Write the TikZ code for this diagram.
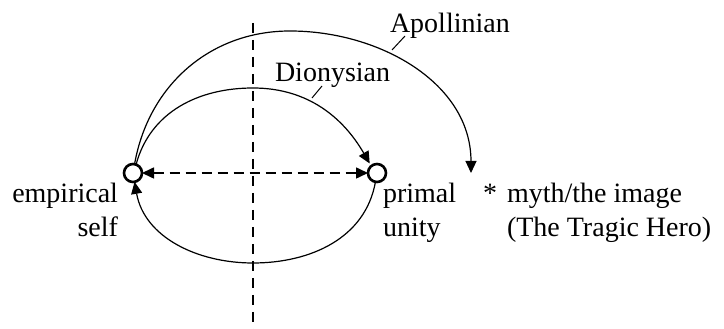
\documentclass[tikz,border=0pt]{standalone}
\usepackage{fontspec}
\setmainfont{Liberation Serif}
\usetikzlibrary{arrows.meta}
\begin{document}
\begin{tikzpicture}[x=1pt,y=1pt,
  every node/.style={inner sep=0pt,outer sep=0pt},
  lbl/.style={font=\fontsize{28}{34}\selectfont},
  pt/.style={circle,draw,line width=2.6pt,minimum size=18pt},
  arc/.style={line width=1.2pt,-{Triangle[length=12pt,width=11pt]}},
  axis/.style={line width=1.6pt,dash pattern=on 10pt off 7pt},
  link/.style={line width=1.6pt,dash pattern=on 10pt off 6pt,{Triangle[length=12pt,width=11pt]}-{Triangle[length=12pt,width=11pt]}},
  leader/.style={line width=1pt}]
\useasboundingbox (0,0) rectangle (724,329);
% axis
\coordinate (axTop) at (253,306);
\coordinate (axBot) at (253,-4);
\draw[axis] (axTop) -- (axBot);
% points
\node[pt] (L) at (133,156) {};
\node[pt] (R) at (377,156) {};
% curve waypoints
\coordinate (apoTop) at (290,298);
\coordinate (apoEnd) at (471,156);
\coordinate (dioTop) at (253,241);
\coordinate (botMid) at (253,66);
% dashed link
\draw[link] (L.east) -- (R.west);
% Apollinian
\draw[arc] (L.80) to[out=80,in=180] (apoTop) to[out=0,in=90] (apoEnd);
% Dionysian
\draw[arc,shorten >=3pt] (L.70) to[out=75,in=180] (dioTop) to[out=0,in=120] (R.130);
% bottom return
\draw[arc] (R.-100) to[out=-100,in=0] (botMid) to[out=180,in=-80] (L.-80);
% labels
\node[lbl,anchor=base west] (apo) at (390,296) {Apollinian};
\coordinate (apoLead) at (392,279);
\draw[leader] ([shift={(15pt,-3pt)}]apo.base west) -- (apoLead);
\node[lbl,anchor=base west] (dio) at (275,247) {Dionysian};
\coordinate (dioLead) at (312,231);
\draw[leader] ([shift={(47pt,-4pt)}]dio.base west) -- (dioLead);
\node[lbl,anchor=base east,align=right] (emp) at (118,92) {empirical\\self};
\node[lbl,anchor=base west,align=left] (pri) at (383,92) {primal\\unity};
\node[lbl,anchor=base west] (star) at (483,126) {*};
\node[lbl,anchor=base west,align=left] (myth) at (507,92) {myth/the image\\(The Tragic Hero)};
\end{tikzpicture}
\end{document}
